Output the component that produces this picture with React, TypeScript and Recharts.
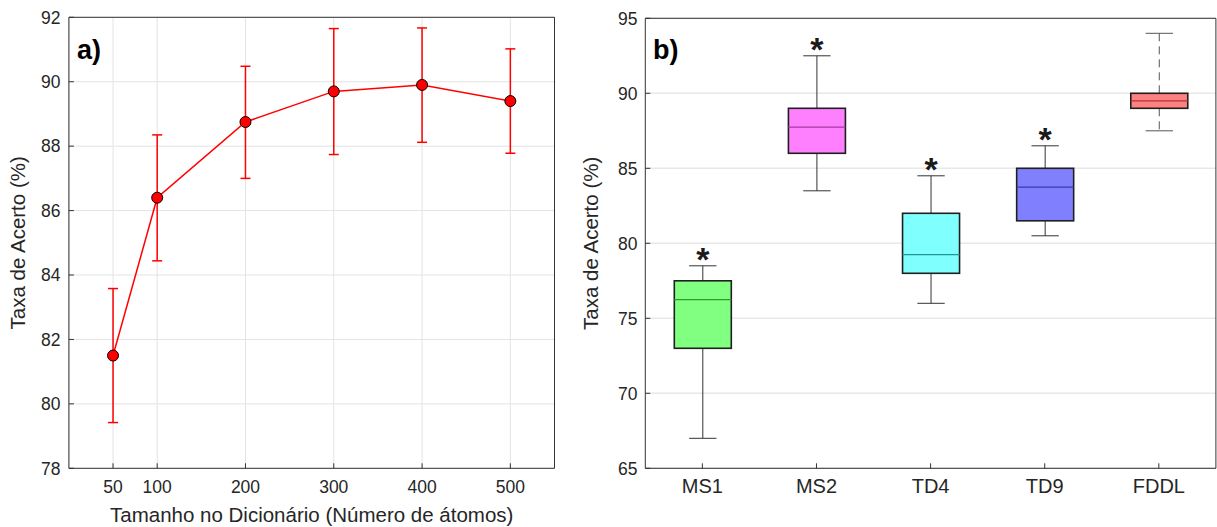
import React from 'react'
import { ComposedChart, Line, ErrorBar, Bar, XAxis, YAxis, CartesianGrid } from 'recharts'

// a) accuracy vs dictionary size
const dictSizes = [50, 100, 200, 300, 400, 500]
const accuracy = [81.5, 86.4, 88.75, 89.7, 89.9, 89.4]
const errLow = [2.08, 1.96, 1.75, 1.96, 1.78, 1.62]
const errHigh = [2.08, 1.95, 1.73, 1.95, 1.77, 1.62]
const sizeTicks = [50, 100, 200, 300, 400, 500]
const accTicks = [78, 80, 82, 84, 86, 88, 90, 92]

// b) boxplots per method
const methods = ['MS1', 'MS2', 'TD4', 'TD9', 'FDDL']
const whiskerLow = [67, 83.5, 76, 80.5, 87.5]
const q1 = [73, 86, 78, 81.5, 89]
const median = [76.25, 87.75, 79.25, 83.75, 89.5]
const q3 = [77.5, 89, 82, 85, 90]
const whiskerHigh = [78.5, 92.5, 84.5, 86.5, 94]
const significant = [true, true, true, true, false]
const boxTicks = [65, 70, 75, 80, 85, 90, 95]

const boxFill = ['#80ff80', '#ff80ff', '#80ffff', '#8080ff', '#ff8080']
const medianStroke = ['#2f9a2f', '#a53aa5', '#239595', '#3a3aa8', '#a83a3a']
const dashedWhisker = ['FDDL']

const FONT = '"Liberation Sans", Arial, Helvetica, sans-serif'
const AXIS = '#333333'
const TXT = '#262626'

const lineData = dictSizes.map((size, i) => ({
  size,
  acc: accuracy[i],
  err: [errLow[i], errHigh[i]],
}))

const boxData = methods.map((name, i) => ({
  name,
  min: whiskerLow[i],
  q1: q1[i],
  med: median[i],
  q3: q3[i],
  max: whiskerHigh[i],
  sig: significant[i],
  range: [whiskerLow[i], whiskerHigh[i]],
}))

function BoxShape(props: any) {
  const { x, y, width, height, payload } = props
  const i = methods.indexOf(payload.name)
  const span = payload.max - payload.min
  // map a value inside the bar's own pixel range
  const yOf = (v: number) => y + (height * (payload.max - v)) / span
  const cx = x + width / 2
  const capHalf = width * 0.24
  const dashed = dashedWhisker.includes(payload.name)
  const wStroke = dashed ? '#555555' : '#333333'
  const dash = dashed ? '8 5' : undefined
  return (
    <g>
      <line x1={cx} x2={cx} y1={yOf(payload.max)} y2={yOf(payload.q3)} stroke={wStroke} strokeWidth={1} strokeDasharray={dash} />
      <line x1={cx} x2={cx} y1={yOf(payload.q1)} y2={yOf(payload.min)} stroke={wStroke} strokeWidth={1} strokeDasharray={dash} />
      <line x1={cx - capHalf} x2={cx + capHalf} y1={yOf(payload.max)} y2={yOf(payload.max)} stroke={wStroke} strokeWidth={1} />
      <line x1={cx - capHalf} x2={cx + capHalf} y1={yOf(payload.min)} y2={yOf(payload.min)} stroke={wStroke} strokeWidth={1} />
      <rect
        x={x}
        y={yOf(payload.q3)}
        width={width}
        height={yOf(payload.q1) - yOf(payload.q3)}
        fill={boxFill[i]}
        stroke="#1f1f1f"
        strokeWidth={1.6}
      />
      <line x1={x} x2={x + width} y1={yOf(payload.med)} y2={yOf(payload.med)} stroke={medianStroke[i]} strokeWidth={1.2} />
      {payload.sig && (
        <text x={cx} y={yOf(payload.max) + 5} textAnchor="middle" fontFamily={FONT} fontWeight="bold" fontSize={34} fill="#1a1a1a">
          *
        </text>
      )}
    </g>
  )
}

const panelLabel: React.CSSProperties = {
  position: 'absolute',
  fontFamily: FONT,
  fontWeight: 'bold',
  fontSize: 27,
  lineHeight: 1,
  color: '#000',
}

export default function App() {
  return (
    <div style={{ position: 'absolute', left: 0, top: 0, width: 1217, height: 527, background: '#fff', overflow: 'hidden' }}>
      <div style={{ position: 'absolute', left: 0, top: 0 }}>
        <ComposedChart width={570} height={527} data={lineData} margin={{ top: 16.3, right: 14.5, bottom: 0, left: 0 }}>
          <CartesianGrid stroke="#e3e3e3" strokeWidth={1} />
          <XAxis
            dataKey="size"
            type="number"
            domain={[0, 550]}
            ticks={sizeTicks}
            height={58.7}
            stroke={AXIS}
            tickSize={-5}
            tickMargin={17.5}
            tick={{ fill: TXT, fontSize: 17.5, fontFamily: FONT }}
            label={{ value: 'Tamanho no Dicionário (Número de átomos)', position: 'insideBottom', offset: 5, fill: TXT, fontSize: 20.5, fontFamily: FONT }}
          />
          <XAxis xAxisId="top" orientation="top" dataKey="size" type="number" domain={[0, 550]} ticks={sizeTicks} height={1} stroke={AXIS} tickSize={-5} tick={false} />
          <YAxis
            domain={[78, 92]}
            ticks={accTicks}
            width={68.9}
            stroke={AXIS}
            tickSize={-5}
            tickMargin={13.4}
            tick={{ fill: TXT, fontSize: 17.5, fontFamily: FONT }}
            label={{ value: 'Taxa de Acerto (%)', angle: -90, position: 'insideLeft', offset: 18, style: { textAnchor: 'middle' }, fill: TXT, fontSize: 20.5, fontFamily: FONT }}
          />
          <YAxis yAxisId="right" orientation="right" domain={[78, 92]} ticks={accTicks} width={1} stroke={AXIS} tickSize={-5} tick={false} />
          <Line
            type="linear"
            dataKey="acc"
            stroke="#ff0000"
            strokeWidth={1.5}
            dot={{ r: 5.5, fill: '#ff0000', stroke: '#000', strokeWidth: 1 }}
            isAnimationActive={false}
          >
            <ErrorBar dataKey="err" direction="y" width={5} stroke="#ff0000" strokeWidth={1.5} />
          </Line>
        </ComposedChart>
      </div>

      <div style={{ position: 'absolute', left: 570, top: 0 }}>
        <ComposedChart width={647} height={527} data={boxData} margin={{ top: 17.3, right: 0.1, bottom: 0, left: 0 }}>
          <CartesianGrid stroke="#e8e8e8" strokeWidth={1.5} vertical={false} />
          <XAxis
            dataKey="name"
            type="category"
            height={58.7}
            stroke={AXIS}
            tickSize={-5}
            tickMargin={15.7}
            tick={{ fill: TXT, fontSize: 20, fontFamily: FONT }}
          />
          <XAxis xAxisId="top" orientation="top" dataKey="name" type="category" height={1} stroke={AXIS} tickSize={-5} tick={false} />
          <YAxis
            domain={[65, 95]}
            ticks={boxTicks}
            width={75.3}
            stroke={AXIS}
            tickSize={-5}
            tickMargin={12.9}
            tick={{ fill: TXT, fontSize: 17.5, fontFamily: FONT }}
            label={{ value: 'Taxa de Acerto (%)', angle: -90, position: 'insideLeft', offset: 21, style: { textAnchor: 'middle' }, fill: TXT, fontSize: 20.5, fontFamily: FONT }}
          />
          <YAxis yAxisId="right" orientation="right" domain={[65, 95]} ticks={boxTicks} width={1} stroke={AXIS} tickSize={-5} tick={false} />
          <Bar dataKey="range" barSize={57} shape={<BoxShape />} isAnimationActive={false} />
        </ComposedChart>
      </div>

      <div style={{ ...panelLabel, left: 77, top: 37 }}>a)</div>
      <div style={{ ...panelLabel, left: 653, top: 37 }}>b)</div>
    </div>
  )
}
